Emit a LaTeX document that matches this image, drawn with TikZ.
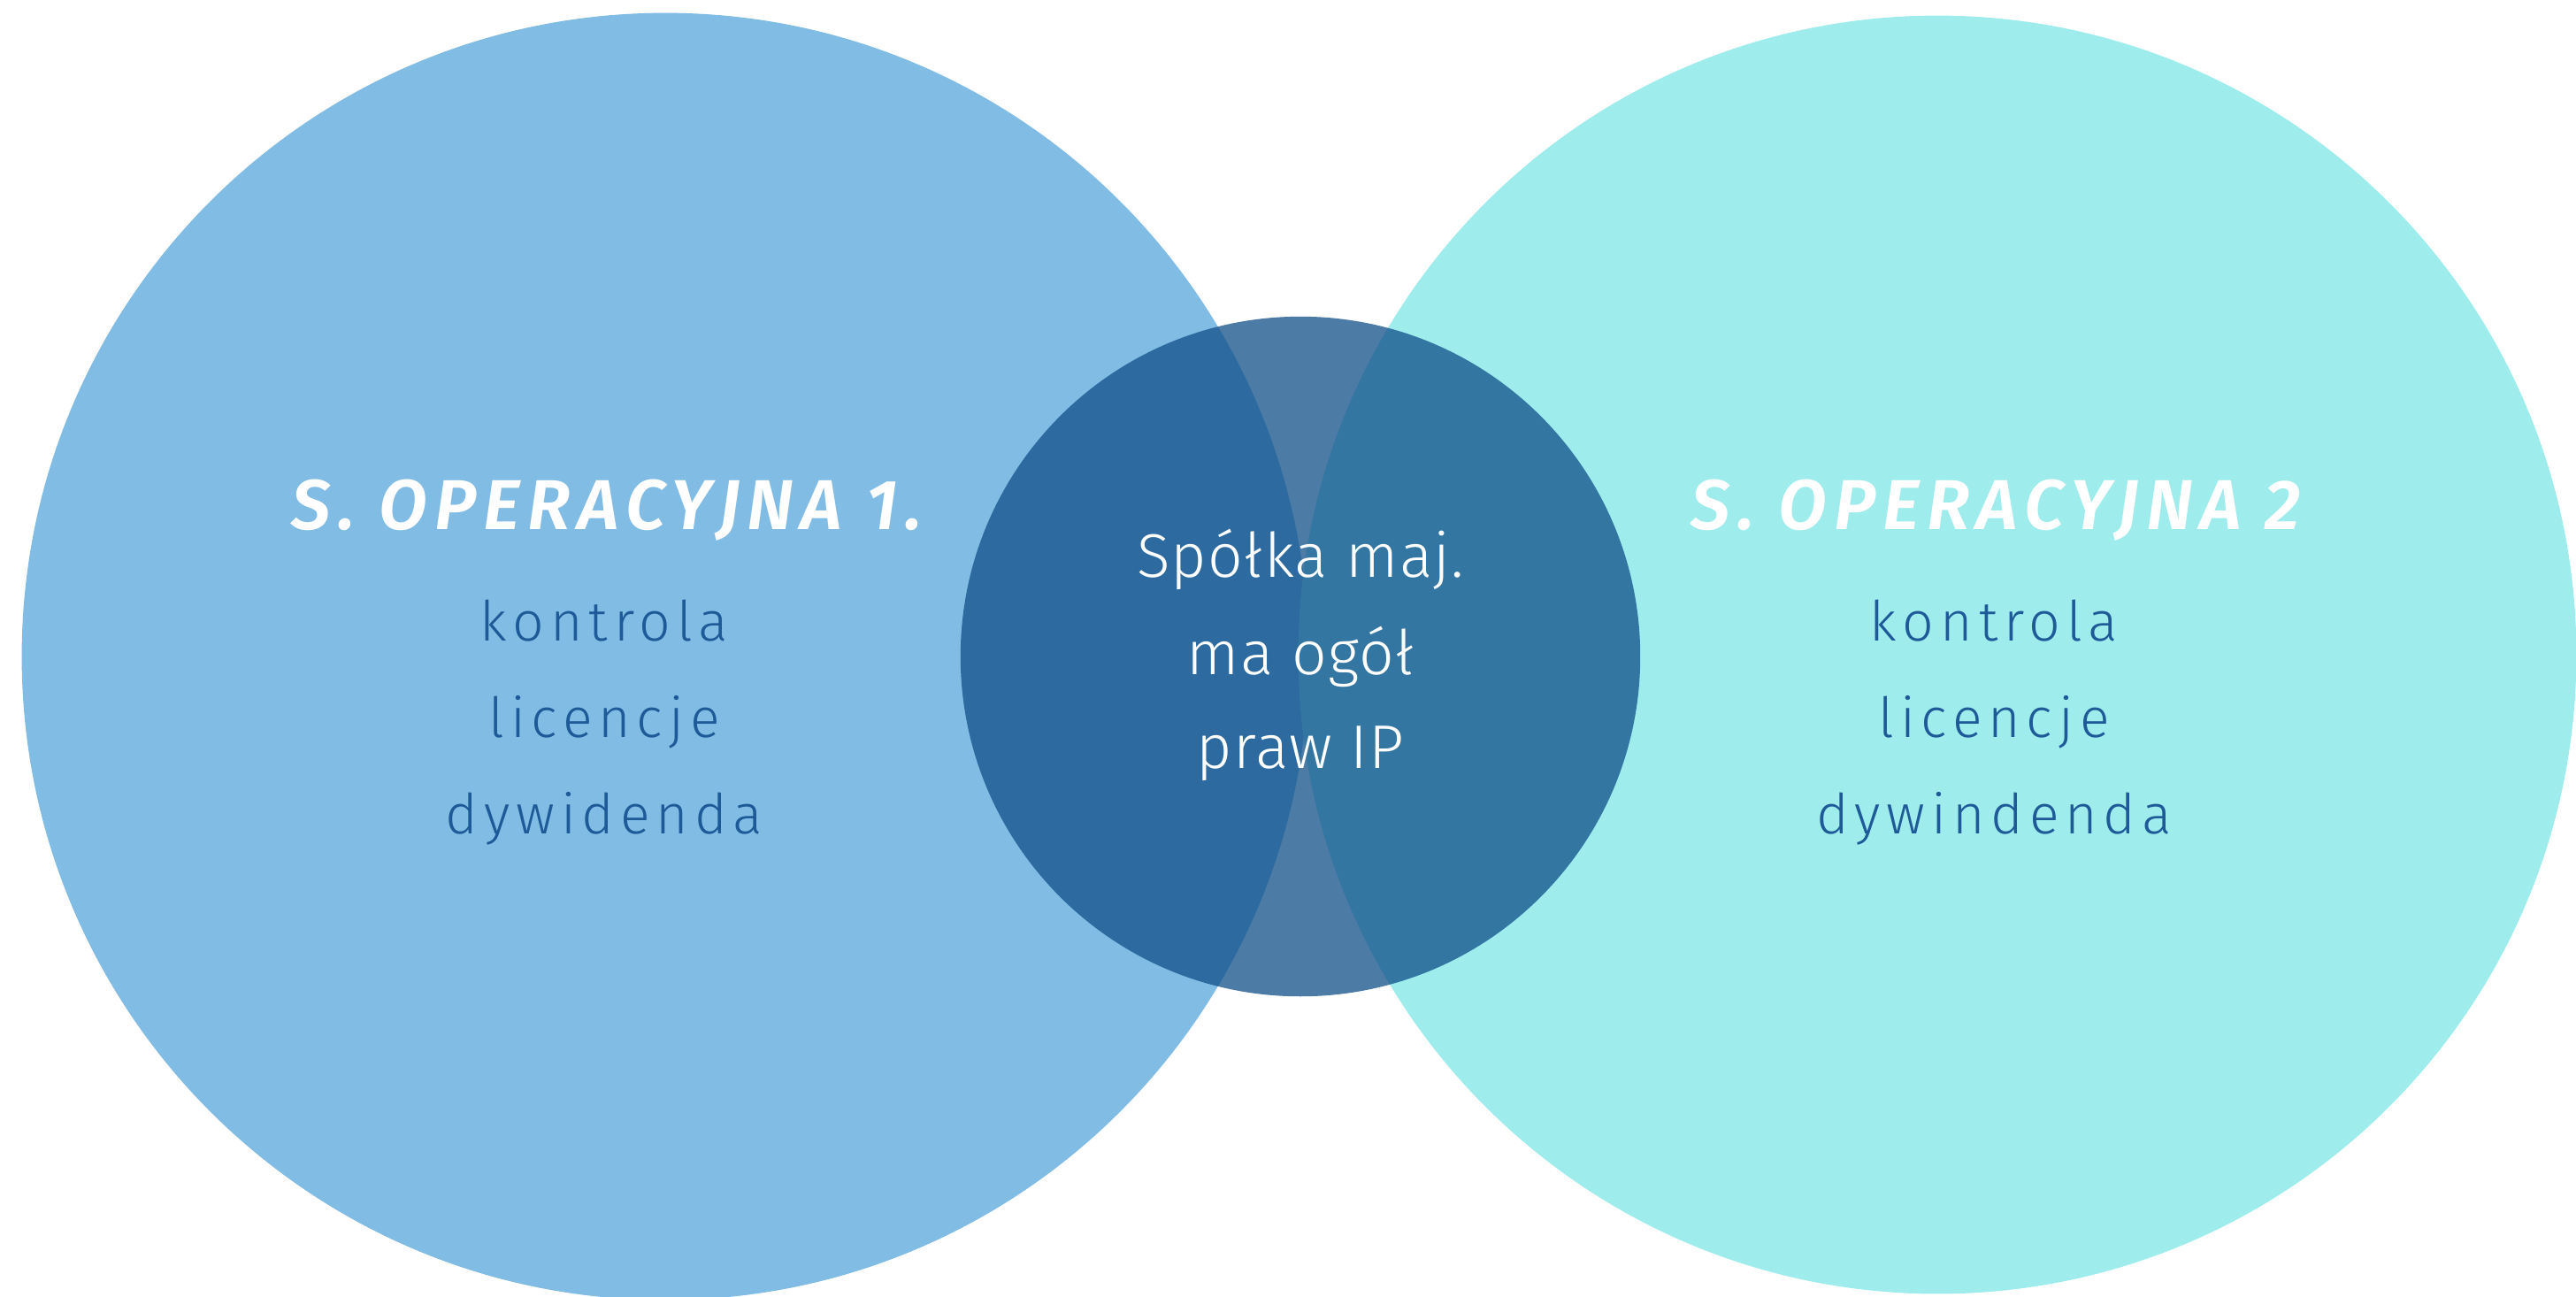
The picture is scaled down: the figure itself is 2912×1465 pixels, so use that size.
\documentclass[tikz,border=0pt]{standalone}
\usepackage{fontspec}
\setmainfont{Fira Sans}
\newfontfamily\titlef{Fira Sans SemiBold}[LetterSpace=10.5]
\newfontfamily\lightf{Fira Sans Light}[LetterSpace=11]
\newfontfamily\midf{Fira Sans Light}[LetterSpace=2]
\definecolor{leftc}{HTML}{80BCE4}
\definecolor{rightc}{HTML}{9EEDEC}
\definecolor{midc}{HTML}{104F88}
\definecolor{bodyc}{HTML}{1D5A97}
\tikzset{
  bigcircle/.style={circle, inner sep=0pt, draw=none, minimum size=#1},
  titletext/.style={anchor=base, inner sep=0pt, text=white, font={\titlef\itshape\fontsize{22.7}{27}\selectfont}},
  bodytext/.style={anchor=base, inner sep=0pt, text=bodyc, font={\lightf\fontsize{17.8}{21}\selectfont}},
  midtext/.style={anchor=base, inner sep=0pt, text=white, font={\midf\fontsize{19.8}{24}\selectfont}}
}
\begin{document}
\begin{tikzpicture}[x=0.01cm,y=-0.01cm]
\useasboundingbox (0,0) rectangle (2912,1465);
\clip (0,0) rectangle (2912,1465);
% big circles
\node[bigcircle=14.54cm, fill=leftc] (c1) at (752,742) {};
\node[bigcircle=14.44cm, fill=rightc] (c2) at (2190,740) {};
% middle circle
\node[bigcircle=7.68cm, fill=midc, fill opacity=0.75] (cm) at (1470,742) {};
% left texts
\node[titletext] (t1) at (686,598) {S. OPERACYJNA 1.};
\node[bodytext] (l1a) at (683,724) {kontrola};
\node[bodytext] (l1b) at (683,833) {licencje};
\node[bodytext] (l1c) at (683,942) {dywidenda};
% right texts
\node[titletext] (t2) at (2256,598) {S. OPERACYJNA 2};
\node[bodytext] (l2a) at (2254,724) {kontrola};
\node[bodytext] (l2b) at (2254,833) {licencje};
\node[bodytext] (l2c) at (2254,942) {dywindenda};
% middle texts
\node[midtext] (m1) at (1470,652) {Spółka maj.};
\node[midtext] (m2) at (1470,762) {ma ogół};
\node[midtext] (m3) at (1470,868) {praw IP};
\end{tikzpicture}
\end{document}
